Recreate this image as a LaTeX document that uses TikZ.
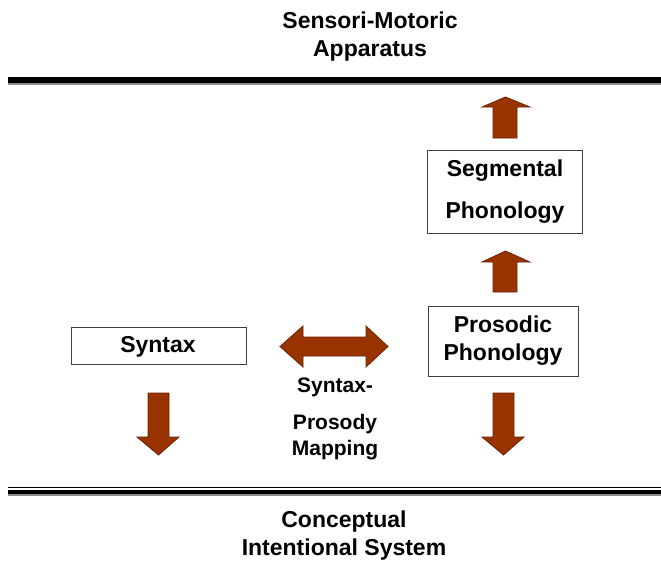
\documentclass[tikz,border=0pt]{standalone}
\usepackage{fontspec}
\setmainfont{Liberation Sans}
\begin{document}
\begin{tikzpicture}[x=1pt,y=-1pt,
  lbl/.style={font=\fontsize{23}{28}\selectfont\bfseries, align=center, inner sep=0pt},
  mlbl/.style={font=\fontsize{21}{26}\selectfont\bfseries, align=center, inner sep=0pt},
  boxnode/.style={draw=black!75, line width=1pt, fill=white},
  barrow/.style={fill=arrowfill, draw=arrowedge, line width=0.8pt, line join=miter}]
\definecolor{arrowfill}{HTML}{993300}
\definecolor{arrowedge}{HTML}{6B2200}
\useasboundingbox (0,0) rectangle (661,563);
% titles
\node[lbl] (top) at (370,37) {Sensori-Motoric\\Apparatus};
\node[lbl] (bot) at (344,536) {Conceptual\\Intentional System};
% horizontal rules
\fill[black] (8,76.5) rectangle (661,82.5);
\fill[black!45] (8,82.5) rectangle (661,84.5);
\fill[black] (8,486.5) rectangle (661,488.2);
\fill[black] (8,489.8) rectangle (661,494.3);
\fill[black!45] (8,494.3) rectangle (661,496);
% boxes
\draw[boxnode] (427,150) rectangle (582,233);
\node[lbl] (seg1) at (505,171) {Segmental};
\node[lbl] (seg2) at (505,213) {Phonology};
\draw[boxnode] (428,306) rectangle (578,376);
\node[lbl] (pros) at (503,341) {Prosodic\\Phonology};
\draw[boxnode] (71,327) rectangle (246,364);
\node[lbl] (syn) at (158,347) {Syntax};
% mapping label
\node[mlbl] (m1) at (335,387) {Syntax-};
\node[mlbl] (m2) at (335,437) {Prosody\\Mapping};
% up arrow above segmental
\draw[barrow] (493,138) -- (493,107) -- (482,107) -- (505.5,97) -- (530,107) -- (517,107) -- (517,138) -- cycle;
% up arrow between boxes
\draw[barrow] (493,292) -- (493,262) -- (482,262) -- (505.5,251) -- (530,262) -- (517,262) -- (517,292) -- cycle;
% down arrows
\draw[barrow] (148,393) -- (169,393) -- (169,437) -- (179,437) -- (158.5,455) -- (137,437) -- (148,437) -- cycle;
\draw[barrow] (493,393) -- (514,393) -- (514,437) -- (524,437) -- (503.5,455) -- (482,437) -- (493,437) -- cycle;
% double arrow
\draw[barrow] (280,346.5) -- (303,326) -- (303,337) -- (366,337) -- (366,326) -- (388,346.5) -- (366,367) -- (366,356) -- (303,356) -- (303,367) -- cycle;
\end{tikzpicture}
\end{document}
